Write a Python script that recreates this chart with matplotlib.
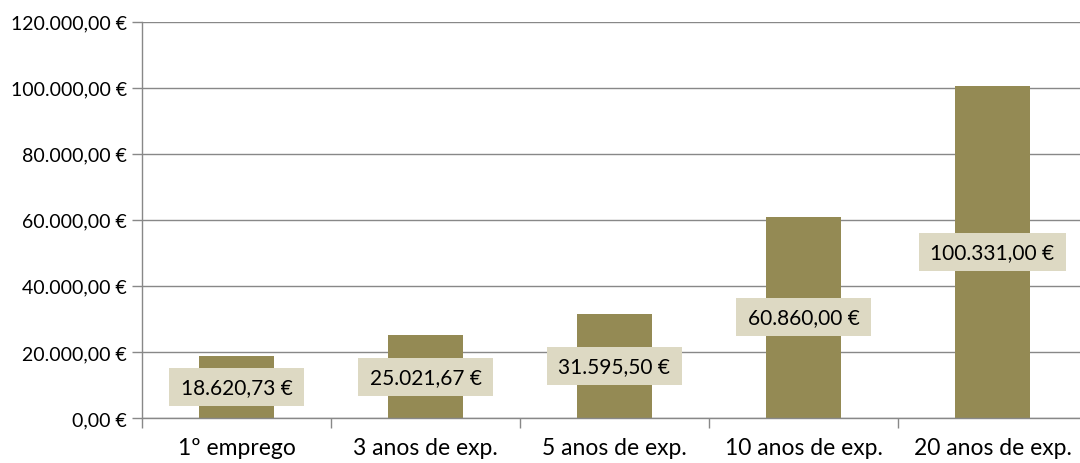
import matplotlib
matplotlib.use("Agg")
import matplotlib.pyplot as plt
from matplotlib.patches import Rectangle
from matplotlib.ticker import FuncFormatter, FixedLocator

categories = ["1º emprego", "3 anos de exp.", "5 anos de exp.", "10 anos de exp.", "20 anos de exp."]
values = [18620.73, 25021.67, 31595.50, 60860.00, 100331.00]
y_ticks = [0, 20000, 40000, 60000, 80000, 100000, 120000]

BAR = "#948A54"
BOX = "#DDD9C3"
GRID = "#888888"
FONT = ["Lato", "DejaVu Sans"]

plt.rcParams['font.family'] = FONT

def eur(v, pos=None):
    s = f"{v:,.2f}"
    s = s.replace(",", "X").replace(".", ",").replace("X", ".")
    return s + " €"

fig = plt.figure(figsize=(10.8, 4.64), dpi=100)
ax = fig.add_axes([142/1080, 45/464, 945/1080, 396.5/464])

x = list(range(len(categories)))
ax.bar(x, values, width=0.4, color=BAR, zorder=2)

ax.set_xlim(-0.5, len(categories) - 0.5)
ax.set_ylim(0, 120000)
ax.yaxis.set_major_locator(FixedLocator(y_ticks))
ax.yaxis.set_major_formatter(FuncFormatter(eur))
ax.grid(axis='y', color=GRID, linewidth=1.0, zorder=0)
ax.set_axisbelow(True)

ax.set_xticks(x)
ax.set_xticklabels(categories)
ax.set_xticks([i - 0.5 for i in range(len(categories) + 1)], minor=True)
ax.tick_params(axis='x', which='major', length=0, pad=14, labelsize=16.5, labelcolor='black')
ax.tick_params(axis='x', which='minor', length=7, width=1, color=GRID)
ax.tick_params(axis='y', which='major', length=7, width=1, color=GRID, pad=4, labelsize=14)

for side in ['top', 'right']:
    ax.spines[side].set_visible(False)
for side in ['left', 'bottom']:
    ax.spines[side].set_color(GRID)
    ax.spines[side].set_linewidth(1.0)
ax.spines['left'].set_bounds(0, 120000)

texts = []
for xi, v in zip(x, values):
    t = ax.text(xi, v / 2, eur(v), ha='center', va='center', fontsize=15,
                color='black', zorder=4)
    texts.append(t)

fig.canvas.draw()
renderer = fig.canvas.get_renderer()
inv = ax.transData.inverted()
for t in texts:
    bb = t.get_window_extent(renderer)
    cx, cy = (bb.x0 + bb.x1) / 2, (bb.y0 + bb.y1) / 2
    w = bb.width + 23
    h = 38
    (dx0, dy0) = inv.transform((cx - w / 2, cy - h / 2))
    (dx1, dy1) = inv.transform((cx + w / 2, cy + h / 2))
    ax.add_patch(Rectangle((dx0, dy0), dx1 - dx0, dy1 - dy0, facecolor=BOX,
                           edgecolor='none', zorder=3, clip_on=False))

fig.savefig("out.png", dpi=100)
